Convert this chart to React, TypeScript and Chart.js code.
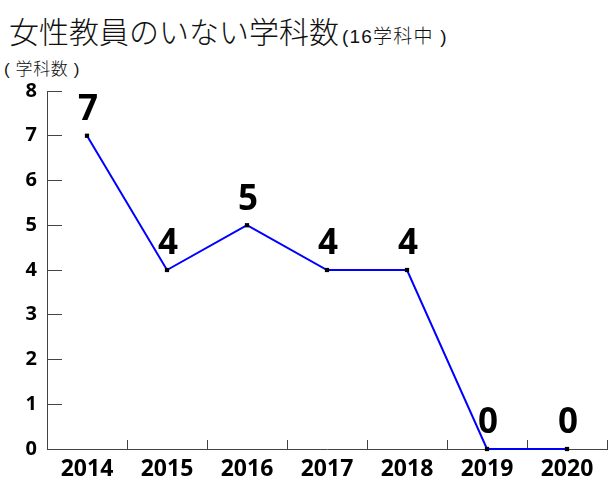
import React, { useEffect, useRef } from "react";
import { Chart, registerables } from "chart.js";

Chart.register(...registerables);

const years = ["2014", "2015", "2016", "2017", "2018", "2019", "2020"];
const deptCounts = [7, 4, 5, 4, 4, 0, 0];
const yMin = 0;
const yMax = 8;

const FONT = "'Open Sans', 'Noto Sans', sans-serif";
const JP_FONT = "'Noto Sans CJK JP', sans-serif";
const MIX_FONT = "'Liberation Sans', 'Noto Sans CJK JP', sans-serif";

// draws the big value above each point
const valueLabels = {
  id: "valueLabels",
  afterDatasetsDraw(chart: any) {
    const { ctx } = chart;
    const meta = chart.getDatasetMeta(0);
    ctx.save();
    ctx.fillStyle = "#000";
    ctx.font = `bold 35px ${FONT}`;
    ctx.textAlign = "center";
    ctx.textBaseline = "bottom";
    meta.data.forEach((pt: any, i: number) => {
      ctx.fillText(String(deptCounts[i]), pt.x + 1, pt.y - 8);
    });
    ctx.restore();
  },
};

const App = () => {
  const canvasRef = useRef<HTMLCanvasElement>(null);

  useEffect(() => {
    if (!canvasRef.current) return;
    const chart = new Chart(canvasRef.current, {
      type: "line",
      data: {
        labels: years,
        datasets: [
          {
            data: deptCounts,
            borderColor: "#0000ff",
            borderWidth: 2,
            tension: 0,
            pointStyle: "rect",
            pointRadius: 3,
            pointBackgroundColor: "#000",
            pointBorderColor: "#000",
            pointBorderWidth: 0,
            clip: false,
          },
        ],
      },
      options: {
        animation: false,
        responsive: false,
        maintainAspectRatio: false,
        layout: { padding: { left: 0, right: 3, top: 91, bottom: 0 } },
        plugins: { legend: { display: false }, tooltip: { enabled: false } },
        scales: {
          x: {
            offset: true,
            grid: {
              offset: true,
              drawOnChartArea: false,
              tickLength: -9,
              color: "#444",
              lineWidth: 1,
            },
            border: { color: "#444", width: 1 },
            ticks: {
              color: "#000",
              padding: 16,
              font: { family: FONT, size: 23, weight: "bold" },
            },
            afterFit: (s: any) => {
              s.height = 51;
            },
          },
          y: {
            min: yMin,
            max: yMax,
            grid: {
              drawOnChartArea: false,
              tickLength: -15,
              color: "#444",
              lineWidth: 1,
            },
            border: { color: "#444", width: 1 },
            ticks: {
              stepSize: 1,
              color: "#000",
              padding: 25,
              font: { family: FONT, size: 20, weight: "bold" },
            },
            afterFit: (s: any) => {
              s.width = 47;
            },
          },
        },
      },
      plugins: [valueLabels],
    } as any);
    return () => chart.destroy();
  }, []);

  return (
    <div
      style={{
        position: "fixed",
        left: 0,
        top: 0,
        width: 611,
        height: 500,
        background: "#fff",
      }}
    >
      <div
        style={{
          position: "absolute",
          left: 9,
          top: 15,
          fontFamily: JP_FONT,
          fontSize: 30,
          fontWeight: 300,
          color: "#111",
          whiteSpace: "nowrap",
          lineHeight: 1,
        }}
      >
        女性教員のいない学科数
        <span
          style={{
            fontFamily: MIX_FONT,
            fontSize: 19,
            fontWeight: 300,
            marginLeft: 3,
            letterSpacing: 1.2,
          }}
        >
          (16学科中 )
        </span>
      </div>
      <div
        style={{
          position: "absolute",
          left: 4,
          top: 61,
          fontFamily: MIX_FONT,
          fontSize: 17,
          fontWeight: 300,
          color: "#111",
          whiteSpace: "nowrap",
          lineHeight: 1,
          letterSpacing: 0.6,
        }}
      >
        ( 学科数 )
      </div>
      <canvas
        ref={canvasRef}
        width={611}
        height={500}
        style={{ position: "absolute", left: 0, top: 0, width: 611, height: 500 }}
      />
    </div>
  );
};

export default App;
